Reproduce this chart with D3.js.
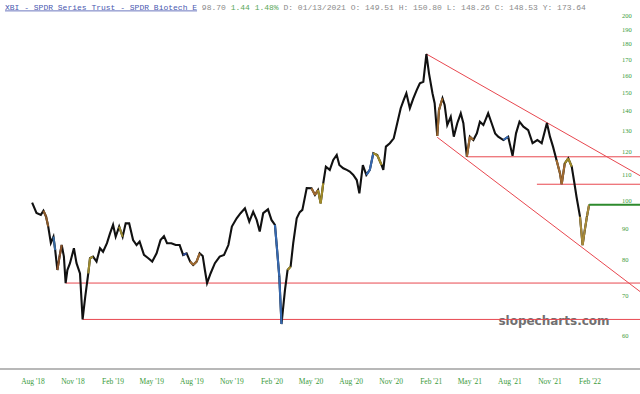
<!DOCTYPE html>
<html>
<head>
<meta charset="utf-8">
<script src="https://cdn.jsdelivr.net/npm/d3@7"></script>
<style>
  body { margin: 0; background: #fff; }
</style>
</head>
<body>
<div id="chart"></div>
<script>
// header pieces
const headerParts = ["XBI - SPDR Series Trust - SPDR Biotech E", " 98.70", " 1.44 1.48%", " D: 01/13/2021 O: 149.51 H: 150.80 L: 148.26 C: 148.53 Y: 173.64"];
const headerColors = ["#4a58b0", "#8a8a8a", "#5aa85a", "#8a8a8a"];

// price series
const dates = ["2018-07-30","2018-08-09","2018-08-19","2018-08-25","2018-08-31","2018-09-05","2018-09-11","2018-09-17","2018-09-21","2018-09-26",
"2018-10-01","2018-10-06","2018-10-11","2018-10-15","2018-10-19","2018-10-25","2018-11-03","2018-11-09","2018-11-17","2018-11-23",
"2018-11-29","2018-12-06","2018-12-10","2018-12-17","2018-12-25","2019-01-02","2019-01-09","2019-01-18","2019-01-25","2019-02-01",
"2019-02-07","2019-02-15","2019-02-23","2019-03-02","2019-03-10","2019-03-19","2019-03-27","2019-04-03","2019-04-13","2019-04-23",
"2019-05-02","2019-05-12","2019-05-21","2019-05-29","2019-06-05","2019-06-15","2019-06-25","2019-07-04","2019-07-12","2019-07-20",
"2019-07-28","2019-08-04","2019-08-12","2019-08-19","2019-08-26","2019-08-31","2019-09-05","2019-09-13","2019-09-23","2019-10-04",
"2019-10-14","2019-10-24","2019-11-01","2019-11-12","2019-11-21","2019-12-01","2019-12-11","2019-12-20","2019-12-28","2020-01-04",
"2020-01-12","2020-01-23","2020-01-31","2020-02-08","2020-02-12","2020-02-18","2020-02-23","2020-03-02","2020-03-08","2020-03-15",
"2020-03-21","2020-03-29","2020-04-05","2020-04-11","2020-04-21","2020-05-02","2020-05-10","2020-05-17","2020-05-23","2020-05-29",
"2020-06-04","2020-06-13","2020-06-21","2020-06-29","2020-07-05","2020-07-14","2020-07-22","2020-07-29","2020-08-06","2020-08-14",
"2020-08-20","2020-08-28","2020-09-05","2020-09-13","2020-09-21","2020-09-30","2020-10-10","2020-10-14","2020-10-20","2020-10-29",
"2020-11-07","2020-11-15","2020-11-23","2020-11-30","2020-12-06","2020-12-14","2020-12-22","2020-12-30","2021-01-06","2021-01-14",
"2021-01-21","2021-01-27","2021-02-04","2021-02-09","2021-02-15","2021-02-19","2021-02-27","2021-03-04","2021-03-10","2021-03-18",
"2021-03-25","2021-04-02","2021-04-10","2021-04-16","2021-04-24","2021-05-01","2021-05-09","2021-05-17","2021-05-24","2021-06-01",
"2021-06-12","2021-06-20","2021-06-28","2021-07-05","2021-07-17","2021-07-28","2021-08-07","2021-08-15","2021-08-23","2021-09-01",
"2021-09-12","2021-09-22","2021-10-03","2021-10-13","2021-10-25","2021-11-01","2021-11-08","2021-11-16","2021-11-24","2021-11-28",
"2021-12-05","2021-12-13","2021-12-21","2021-12-26","2022-01-01","2022-01-09","2022-01-15","2022-01-20","2022-01-25","2022-01-30"];
const closes = [99.5,95.7,95.0,96.5,94.4,90.9,85.5,87.5,83.2,77.2,
81.2,84.8,81.2,73.5,77.2,79.2,83.8,79.2,76.2,64.1,
69.8,76.2,80.7,81.2,79.7,83.8,82.7,85.4,88.6,91.5,
87.5,90.9,87.5,92.0,92.0,86.4,84.8,85.9,81.7,80.7,
79.7,82.2,86.4,87.7,85.4,85.4,84.8,84.8,81.7,82.2,
79.7,78.7,79.7,82.2,81.4,77.2,73.5,76.2,79.2,81.2,
81.7,84.8,90.9,93.8,95.6,97.4,92.6,96.1,93.2,89.2,
95.6,97.0,93.2,91.5,84.8,75.3,63.0,71.6,77.2,78.2,
85.4,93.8,96.0,96.8,105.1,105.0,102.4,104.3,99.2,107.0,
113.9,112.5,116.8,119.0,114.6,113.2,112.5,111.8,110.4,108.3,
103.0,114.6,110.4,112.5,119.8,119.0,114.6,112.5,122.8,124.4,
126.7,134.1,141.9,146.4,150.1,141.9,147.3,152.0,155.9,156.8,
174.0,161.8,150.1,144.6,127.8,141.0,147.3,143.6,133.2,137.4,
127.5,134.1,139.2,134.1,118.3,127.5,125.9,129.1,134.9,133.2,
139.2,134.1,129.1,127.5,125.9,127.5,118.6,129.1,134.9,132.4,
130.7,124.4,125.9,124.4,134.2,127.5,122.8,116.8,111.1,106.7,
115.3,117.5,113.9,108.3,101.7,94.4,84.8,89.7,94.4,98.7];

// coloured candle stretches
const hlStart = ["2018-08-24","2018-09-14","2018-09-24","2018-12-05","2019-02-12","2019-07-10","2019-07-28","2020-02-07","2020-03-07","2020-04-28","2020-05-16","2020-09-04","2020-09-20","2021-02-13","2021-04-20","2021-07-12","2021-11-14","2021-12-04","2022-01-08"];
const hlEnd   = ["2018-08-31","2018-09-18","2018-10-02","2018-12-12","2019-02-22","2019-07-18","2019-08-12","2020-02-22","2020-03-12","2020-05-10","2020-05-26","2020-09-13","2020-09-30","2021-02-20","2021-05-02","2021-07-20","2021-11-30","2021-12-14","2022-01-26"];
const hlColor = ["#8a5a2a","#35689f","#8a522a","#9c8a30","#9c8a30","#2e4a9a","#a06a30","#3568b0","#a08a28","#a06a30","#a08a28","#3568b0","#a08a28","#98652d","#a06a30","#3568b0","#a06a30","#a08a28","#a88a3a"];

// horizontal support levels
const levelStart = ["2018-10-15","2018-11-23","2021-04-24","2021-10-02"];
const levelPrice = [73.5, 64.1, 118.2, 106.6];

// channel lines (two anchors each)
const upperDates = ["2021-01-21","2021-10-25"], upperPrices = [174.0, 134.4];
const lowerDates = ["2021-02-15","2022-01-16"], lowerPrices = [127.2, 83.8];

const lastPrice = 98.70;

const priceTicks = [60,70,80,90,100,110,120,130,140,150,160,170,180,190,200];

const W = 640, H = 394;
const parse = d3.timeParse("%Y-%m-%d");
const data = dates.map((d, i) => ({date: parse(d), close: closes[i]}));

const svg = d3.select("#chart").append("svg")
  .attr("width", W).attr("height", H)
  .style("font-family", "'Liberation Serif', serif");

const x = d3.scaleTime()
  .domain([new Date(2018, 7, 1), new Date(2022, 1, 1)])
  .range([33, 590]);
const y = d3.scaleLog()
  .domain([60, 200])
  .range([337, 17]);

// header
const head = svg.append("text")
  .attr("x", 5).attr("y", 9.5)
  .style("font-family", "'Liberation Mono', monospace")
  .style("font-size", "8px")
  .attr("xml:space", "preserve");
headerParts.forEach((t, i) => {
  head.append("tspan")
    .attr("fill", headerColors[i])
    .style("text-decoration", i === 0 ? "underline" : null)
    .text(t);
});

// watermark
svg.append("text")
  .attr("x", 554).attr("y", 321)
  .attr("text-anchor", "middle")
  .attr("dominant-baseline", "middle")
  .style("font-family", "'DejaVu Sans', sans-serif")
  .style("font-weight", "bold")
  .style("font-size", "12px")
  .attr("fill", "#707070")
  .text("slopecharts.com");

// right axis labels
svg.append("g").selectAll("text")
  .data(priceTicks)
  .join("text")
    .attr("x", 622)
    .attr("y", d => y(d))
    .attr("dominant-baseline", "middle")
    .style("font-size", "6.5px")
    .attr("fill", "#3a9a3a")
    .text(d => d);

// bottom axis
const tickDates = d3.timeMonth.range(new Date(2018, 7, 1), new Date(2022, 2, 1))
  .filter(d => d.getMonth() % 3 === 1);
svg.append("line")
  .attr("x1", 0).attr("x2", W)
  .attr("y1", 369).attr("y2", 369)
  .attr("stroke", "#a0a0a0").attr("stroke-width", 1.5);
svg.append("g").selectAll("text")
  .data(tickDates)
  .join("text")
    .attr("x", d => x(d))
    .attr("y", 384)
    .attr("text-anchor", "middle")
    .style("font-size", "7.5px")
    .attr("fill", "#3a9a3a")
    .text(d => d3.timeFormat("%b '%y")(d));

// levels
svg.append("g").selectAll("line")
  .data(levelPrice)
  .join("line")
    .attr("x1", (d, i) => x(parse(levelStart[i])))
    .attr("x2", W)
    .attr("y1", d => y(d))
    .attr("y2", d => y(d))
    .attr("stroke", "#e8474f").attr("stroke-width", 1);

// channels, extended to the right edge
function extLine(ds, ps) {
  const x1 = x(parse(ds[0])), y1 = y(ps[0]);
  const x2 = x(parse(ds[1])), y2 = y(ps[1]);
  const k = (y2 - y1) / (x2 - x1);
  svg.append("line")
    .attr("x1", x1).attr("y1", y1)
    .attr("x2", W).attr("y2", y1 + k * (W - x1))
    .attr("stroke", "#e8474f").attr("stroke-width", 1);
}
extLine(upperDates, upperPrices);
extLine(lowerDates, lowerPrices);

// price line
const line = d3.line()
  .x(d => x(d.date))
  .y(d => y(d.close));
svg.append("path")
  .datum(data)
  .attr("fill", "none")
  .attr("stroke", "#111")
  .attr("stroke-width", 2.1)
  .attr("stroke-linejoin", "miter")
  .attr("d", line);

// coloured stretches: one segment forward from each point inside the range
hlStart.forEach((s, i) => {
  const a = parse(s), b = parse(hlEnd[i]);
  data.forEach((d, j) => {
    if (d.date < a || d.date > b || j === data.length - 1) return;
    svg.append("path")
      .datum([d, data[j + 1]])
      .attr("fill", "none")
      .attr("stroke", hlColor[i])
      .attr("stroke-width", 2.1)
      .attr("d", line);
  });
});

// last price marker
const last = data[data.length - 1];
svg.append("line")
  .attr("x1", x(last.date)).attr("x2", W)
  .attr("y1", y(lastPrice)).attr("y2", y(lastPrice))
  .attr("stroke", "#2d8a2d").attr("stroke-width", 2);
</script>
</body>
</html>
